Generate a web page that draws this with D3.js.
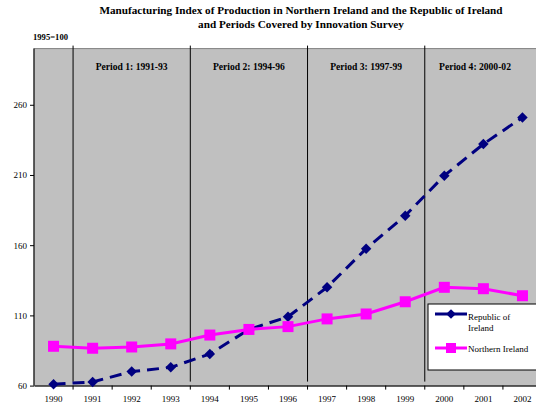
<!DOCTYPE html>
<html>
<head>
<meta charset="utf-8">
<script src="https://cdn.jsdelivr.net/npm/d3@7"></script>
<style>
  body { margin: 0; background: #fff; }
  svg { display: block; }
</style>
</head>
<body>
<div id="chart"></div>
<script>
const YEARS = ['1990', '1991', '1992', '1993', '1994', '1995', '1996', '1997', '1998', '1999', '2000', '2001', '2002'];
const REPUBLIC = [61, 62.6, 70, 73, 82.5, 100, 109, 130, 157.5, 181, 209.5, 232, 251];
const NORTHERN = [88, 86.6, 87.5, 89.7, 96, 100, 102, 107.5, 111, 119.7, 130, 129, 124];
const Y_TICKS = [60, 110, 160, 210, 260];
const PERIODS = [
  { label: 'Period 1: 1991-93', from: '1991', to: '1993' },
  { label: 'Period 2: 1994-96', from: '1994', to: '1996' },
  { label: 'Period 3: 1997-99', from: '1997', to: '1999' },
  { label: 'Period 4: 2000-02', from: '2000', to: '2002' }
];

const WIDTH = 536;
const HEIGHT = 406;
const LEFT = 34;
const RIGHT = 542;
const TOP = 48.6;
const BOTTOM = 385.6;
const FONT = '"Liberation Serif", "Times New Roman", serif';
const NAVY = '#000080';
const PINK = '#FF00FF';

const svg = d3.select('#chart')
  .append('svg')
  .attr('width', WIDTH)
  .attr('height', HEIGHT);

// scales
const xScale = d3.scaleBand()
  .domain(YEARS)
  .range([LEFT, RIGHT]);
const yScale = d3.scaleLinear()
  .domain([60, 300])
  .range([BOTTOM, TOP]);
const cx = (d) => xScale(d) + xScale.bandwidth() / 2;

// plot background
svg.append('rect')
  .attr('x', LEFT)
  .attr('y', TOP)
  .attr('width', RIGHT - LEFT)
  .attr('height', BOTTOM - TOP)
  .attr('fill', '#C0C0C0')
  .attr('stroke', '#808080')
  .attr('stroke-width', 1);

// period separators
PERIODS.forEach(p => {
  svg.append('line')
    .attr('x1', xScale(p.from))
    .attr('x2', xScale(p.from))
    .attr('y1', TOP - 3)
    .attr('y2', BOTTOM - 4)
    .attr('stroke', '#000')
    .attr('stroke-width', 1);
});

// period labels
svg.selectAll('.period')
  .data(PERIODS)
  .enter()
  .append('text')
  .attr('x', (d, i) => i === 3 ? 475 : (xScale(d.from) + xScale(d.to) + xScale.bandwidth()) / 2)
  .attr('y', 70)
  .style('font-family', FONT)
  .style('font-size', '9.6px')
  .style('font-weight', 'bold')
  .style('text-anchor', 'middle')
  .text(d => d.label);

// axes
const xAxis = d3.axisBottom(xScale).tickSize(0).tickPadding(10);
const gx = svg.append('g')
  .attr('transform', `translate(0, ${BOTTOM})`)
  .call(xAxis);
gx.select('.domain').attr('stroke', '#000');
gx.selectAll('text')
  .style('font-family', FONT)
  .style('font-size', '9px')
  .attr('fill', '#000');
// tick marks between categories
YEARS.slice(1).forEach(y => {
  gx.append('line')
    .attr('x1', xScale(y)).attr('x2', xScale(y))
    .attr('y1', 0).attr('y2', 4)
    .attr('stroke', '#000');
});

const yAxis = d3.axisLeft(yScale).tickValues(Y_TICKS).tickSize(4).tickPadding(3);
const gy = svg.append('g')
  .attr('transform', `translate(${LEFT}, 0)`)
  .call(yAxis);
gy.select('.domain').attr('d', `M0,${TOP}V${BOTTOM}`).attr('stroke', '#000');
gy.selectAll('text')
  .style('font-family', FONT)
  .style('font-size', '9px')
  .attr('fill', '#000');

// lines
const line = (vals) => d3.line()
  .x((d, i) => cx(YEARS[i]))
  .y(d => yScale(d))(vals);

svg.append('path')
  .attr('d', line(REPUBLIC))
  .attr('fill', 'none')
  .attr('stroke', NAVY)
  .attr('stroke-width', 3)
  .attr('stroke-dasharray', '12,7');

svg.selectAll('.diamond')
  .data(REPUBLIC)
  .enter()
  .append('path')
  .attr('d', d3.symbol().type(d3.symbolDiamond2).size(70))
  .attr('transform', (d, i) => `translate(${cx(YEARS[i])}, ${yScale(d)})`)
  .attr('fill', NAVY);

svg.append('path')
  .attr('d', line(NORTHERN))
  .attr('fill', 'none')
  .attr('stroke', PINK)
  .attr('stroke-width', 3);

svg.selectAll('.square')
  .data(NORTHERN)
  .enter()
  .append('rect')
  .attr('x', (d, i) => cx(YEARS[i]) - 5.5)
  .attr('y', d => yScale(d) - 5.5)
  .attr('width', 11)
  .attr('height', 11)
  .attr('fill', PINK);

// legend
const legend = svg.append('g').attr('transform', 'translate(428, 304)');
legend.append('rect')
  .attr('width', 114)
  .attr('height', 66)
  .attr('fill', '#fff')
  .attr('stroke', '#000');
legend.append('line')
  .attr('x1', 7).attr('x2', 39).attr('y1', 10).attr('y2', 10)
  .attr('stroke', NAVY).attr('stroke-width', 3);
legend.append('path')
  .attr('d', d3.symbol().type(d3.symbolDiamond2).size(60))
  .attr('transform', 'translate(23, 10)')
  .attr('fill', NAVY);
legend.append('text')
  .attr('x', 40).attr('y', 16)
  .style('font-family', FONT).style('font-size', '9px')
  .text('Republic of');
legend.append('text')
  .attr('x', 40).attr('y', 27)
  .style('font-family', FONT).style('font-size', '9px')
  .text('Ireland');
legend.append('line')
  .attr('x1', 7).attr('x2', 39).attr('y1', 44).attr('y2', 44)
  .attr('stroke', PINK).attr('stroke-width', 3);
legend.append('rect')
  .attr('x', 18).attr('y', 39).attr('width', 10).attr('height', 10)
  .attr('fill', PINK);
legend.append('text')
  .attr('x', 40).attr('y', 48)
  .style('font-family', FONT).style('font-size', '9px')
  .text('Northern Ireland');

// title and unit label
svg.append('text')
  .attr('x', 301).attr('y', 14)
  .style('font-family', FONT).style('font-size', '11.2px').style('font-weight', 'bold')
  .style('text-anchor', 'middle')
  .text('Manufacturing Index of Production in Northern Ireland and the Republic of Ireland');
svg.append('text')
  .attr('x', 301).attr('y', 28)
  .style('font-family', FONT).style('font-size', '11.2px').style('font-weight', 'bold')
  .style('text-anchor', 'middle')
  .text('and Periods Covered by Innovation Survey');
svg.append('text')
  .attr('x', 33).attr('y', 40)
  .style('font-family', FONT).style('font-size', '8.6px').style('font-weight', 'bold')
  .text('1995=100');
</script>
</body>
</html>
